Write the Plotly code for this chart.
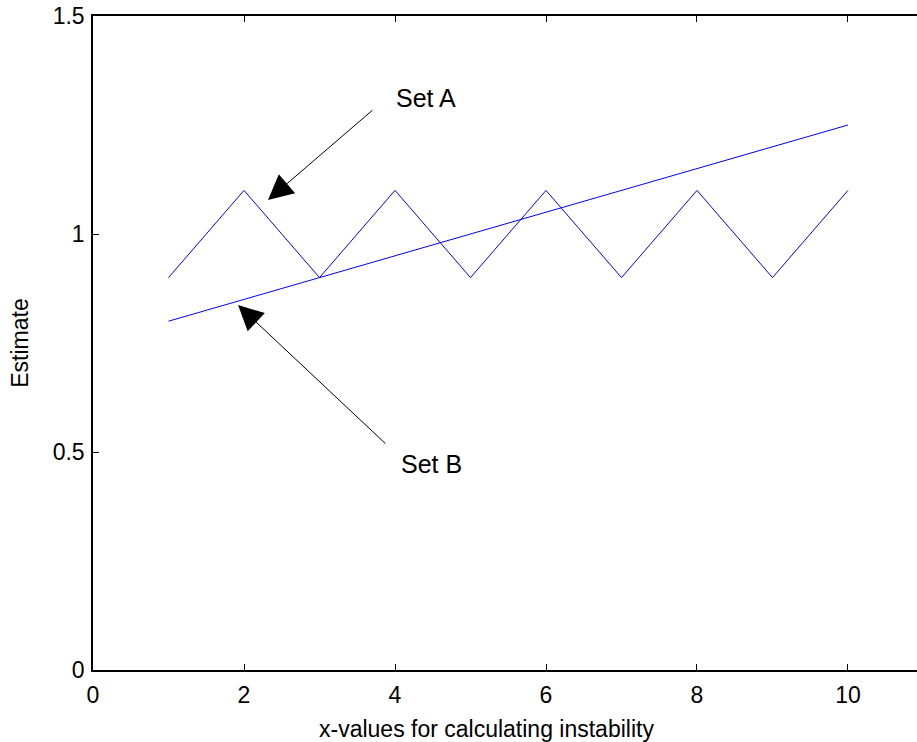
import plotly.graph_objects as go

x_vals = [1, 2, 3, 4, 5, 6, 7, 8, 9, 10]
set_a = [0.9, 1.1, 0.9, 1.1, 0.9, 1.1, 0.9, 1.1, 0.9, 1.1]
set_b = [0.80, 0.85, 0.90, 0.95, 1.00, 1.05, 1.10, 1.15, 1.20, 1.25]
x_ticks = [0, 2, 4, 6, 8, 10]
y_ticks = [0, 0.5, 1, 1.5]
y_tick_text = ["0", "0.5", "1", "1.5"]
x_title = "x-values for calculating instability"
y_title = "Estimate"

FONT = "Liberation Sans, Arial, Helvetica, sans-serif"

fig = go.Figure()
fig.add_trace(go.Scatter(x=x_vals, y=set_a, mode="lines",
                         line=dict(color="#0000ff", width=1), name="Set A"))
fig.add_trace(go.Scatter(x=x_vals, y=set_b, mode="lines",
                         line=dict(color="#0000ff", width=1), name="Set B"))

# arrows (no text) + labels
arrows = [
    dict(head=(2.318, 1.078), tail=(3.722, 1.287)),
    dict(head=(1.921, 0.837), tail=(3.894, 0.516)),
]
for a in arrows:
    fig.add_annotation(x=a["head"][0], y=a["head"][1], ax=a["tail"][0], ay=a["tail"][1],
                       xref="x", yref="y", axref="x", ayref="y", text="",
                       showarrow=True, arrowhead=2, arrowsize=5, arrowwidth=1,
                       arrowcolor="black")
labels = [("Set A", 4.41, 1.312), ("Set B", 4.477, 0.472)]
for t, lx, ly in labels:
    fig.add_annotation(x=lx, y=ly, xref="x", yref="y", text=t, showarrow=False,
                       font=dict(family=FONT, size=25, color="black"))

# x-axis title (MATLAB-like placement)
fig.add_annotation(x=0.478, y=-0.09, xref="paper", yref="paper", text=x_title,
                   showarrow=False, xanchor="center", yanchor="middle",
                   font=dict(family=FONT, size=23, color="black"))

fig.update_layout(
    width=917, height=742,
    margin=dict(l=93, r=0, t=16, b=72),
    paper_bgcolor="white", plot_bgcolor="white",
    showlegend=False,
    font=dict(family=FONT, size=23, color="black"),
)
fig.update_xaxes(range=[0, 10.914], tickvals=x_ticks, ticks="inside", ticklen=6,
                 tickcolor="black", showline=True, linecolor="black", linewidth=1.5,
                 mirror="ticks", showgrid=False, zeroline=False, ticklabelstandoff=4,
                 tickfont=dict(family=FONT, size=23, color="black"))
fig.update_yaxes(range=[0, 1.5], tickvals=y_ticks, ticktext=y_tick_text, ticks="inside",
                 ticklen=6, tickcolor="black", showline=True, linecolor="black",
                 linewidth=1.5, mirror=False, showgrid=False, zeroline=False,
                 ticklabelstandoff=2,
                 tickfont=dict(family=FONT, size=23, color="black"),
                 title=dict(text=y_title, font=dict(family=FONT, size=23, color="black"),
                            standoff=18))

fig.write_html("out.html")
